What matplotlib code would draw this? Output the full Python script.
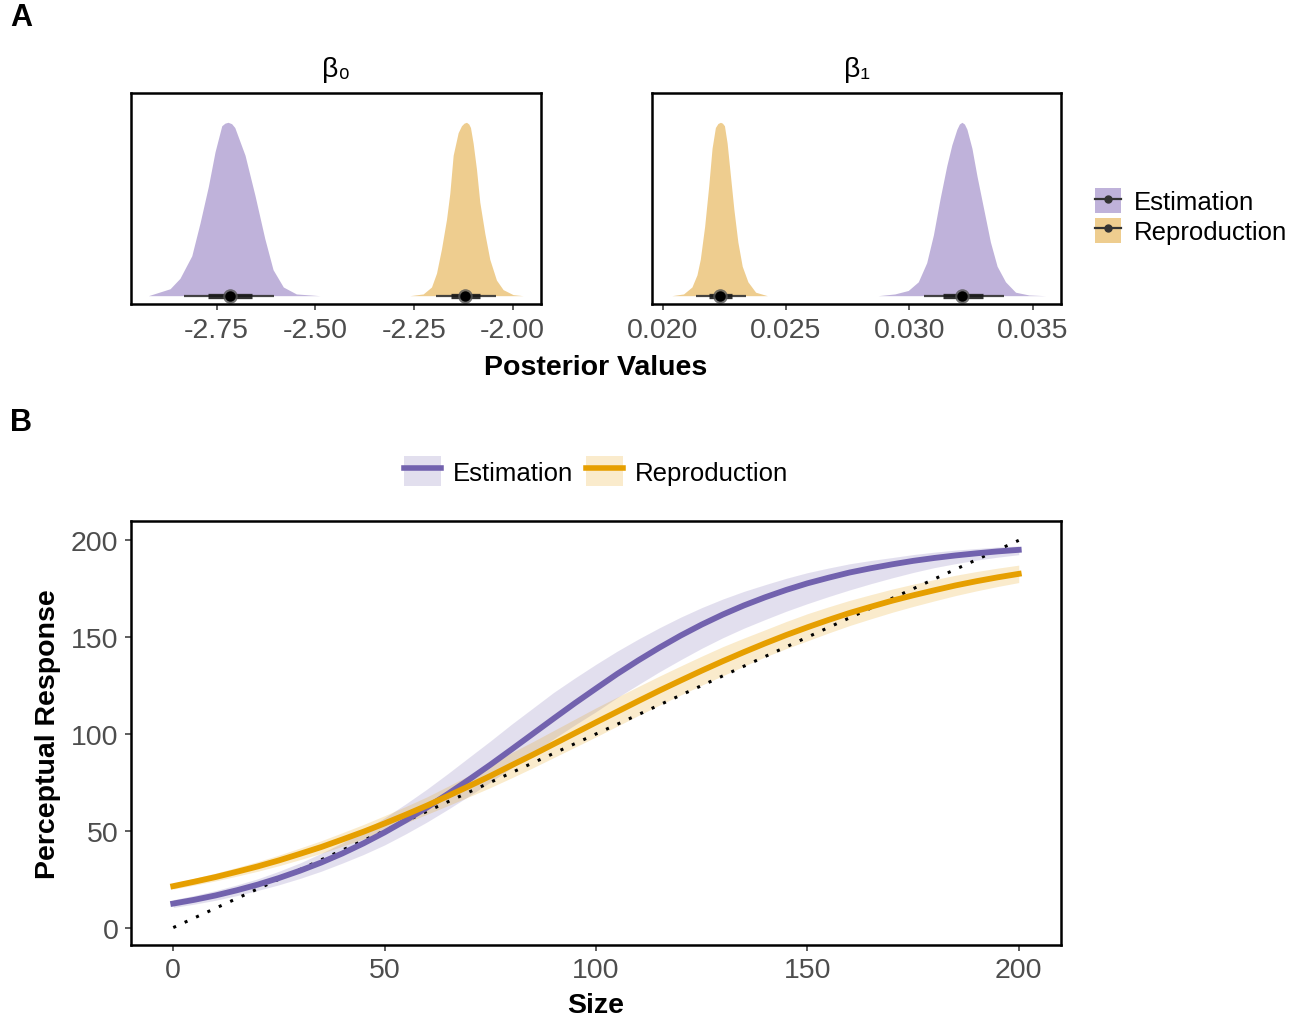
import numpy as np
import matplotlib
matplotlib.use("Agg")
import matplotlib.pyplot as plt
from matplotlib.patches import Patch
from matplotlib.lines import Line2D

plt.rcParams['font.family'] = ['Liberation Sans', 'DejaVu Sans']
plt.rcParams['axes.unicode_minus'] = False

# ---- panel A: posterior densities (relative heights) ----
b0_est_x = [-2.923, -2.868, -2.843, -2.813, -2.792, -2.771, -2.754, -2.737, -2.729, -2.721,
            -2.712, -2.704, -2.678, -2.653, -2.628, -2.607, -2.581, -2.548, -2.488]
b0_est_h = [0, 0.04, 0.10, 0.23, 0.42, 0.63, 0.83, 0.98, 0.995, 1.0,
            0.992, 0.97, 0.81, 0.58, 0.33, 0.15, 0.05, 0.01, 0]
b0_rep_x = [-2.2604, -2.2266, -2.2055, -2.1928, -2.1802, -2.1675, -2.1591, -2.1506, -2.1380,
            -2.1295, -2.123, -2.1168, -2.111, -2.1067, -2.1000, -2.0915, -2.0831, -2.0704,
            -2.0578, -2.0409, -2.0240, -1.9987, -1.9733]
b0_rep_h = [0, 0.01, 0.05, 0.13, 0.27, 0.44, 0.59, 0.81, 0.94,
            0.98, 0.995, 1.0, 0.99, 0.97, 0.88, 0.73, 0.54, 0.36,
            0.21, 0.09, 0.035, 0.006, 0]
b1_rep_x = [0.020366, 0.020842, 0.021182, 0.021387, 0.021522, 0.021699, 0.021862, 0.021999,
            0.022135, 0.022237, 0.022339, 0.022420, 0.022502, 0.022611, 0.022747, 0.022883,
            0.023046, 0.023223, 0.023454, 0.023767, 0.024244]
b1_rep_h = [0, 0.01, 0.05, 0.12, 0.21, 0.40, 0.63, 0.85,
            0.97, 0.993, 1.0, 0.995, 0.98, 0.88, 0.69, 0.5,
            0.31, 0.17, 0.08, 0.02, 0]
b1_est_x = [0.028733, 0.029413, 0.029958, 0.030366, 0.030706, 0.030978, 0.031250, 0.031522,
            0.031727, 0.031931, 0.032033, 0.032135, 0.032237, 0.032339, 0.032543, 0.032747,
            0.033019, 0.033291, 0.033563, 0.033903, 0.034311, 0.034856, 0.035536]
b1_est_h = [0, 0.01, 0.03, 0.08, 0.19, 0.35, 0.56, 0.75,
            0.87, 0.96, 0.99, 1.0, 0.99, 0.96, 0.85, 0.69,
            0.5, 0.31, 0.17, 0.08, 0.02, 0.004, 0]

# point estimate, 66% and 95% intervals
b0_est_int = [-2.716, -2.771, -2.661, -2.833, -2.604]
b0_rep_int = [-2.121, -2.155, -2.083, -2.1945, -2.041]
b1_rep_int = [0.022339, 0.021862, 0.022815, 0.021359, 0.023386]
b1_est_int = [0.032135, 0.031386, 0.032978, 0.030597, 0.033862]

# ---- panel B: fitted curves with ribbons ----
size = list(range(0, 201, 5))
est_mid = [12.4, 14.35, 16.6, 19.25, 22.2, 25.6, 29.4, 33.6, 38.3, 43.5,
           49.2, 55.4, 62.0, 69.1, 76.5, 84.1, 92.0, 100.0, 108.0, 115.9,
           123.5, 131.0, 138.0, 144.6, 150.8, 156.5, 161.7, 166.4, 170.6, 174.4,
           177.8, 180.7, 183.4, 185.6, 187.6, 189.4, 190.9, 192.2, 193.3, 194.3, 195.1]
est_up = [2, 2.25, 2.5, 2.75, 3, 3.5, 4, 4.75, 5.5, 6.5,
          7.5, 8.5, 9.5, 10.5, 11.5, 12.25, 13, 13.25, 13.5, 13,
          12.5, 11.75, 11, 10.25, 9.5, 8.75, 8, 7.25, 6.5, 6,
          5.5, 5, 4.5, 4, 3.5, 3.25, 3, 2.75, 2.5, 2.25, 2]
est_dn = [2, 2.25, 2.5, 2.75, 3, 3.5, 4, 4.5, 5, 5.75,
          6.5, 7, 7.5, 8, 8.5, 9, 9.5, 10, 10.5, 11.25,
          12, 12.25, 12.5, 12.5, 12.5, 12.25, 12, 11.75, 11.5, 11,
          10.5, 9.75, 9, 8, 7, 6, 5, 4.25, 3.5, 3, 2.5]
rep_mid = [21.4, 23.7, 26.1, 28.8, 31.6, 34.7, 38.1, 41.6, 45.5, 49.5,
           53.8, 58.3, 63.0, 68.0, 73.1, 78.3, 83.8, 89.2, 94.8, 100.4,
           106.0, 111.5, 117.0, 122.4, 127.6, 132.7, 137.6, 142.3, 146.8, 151.1,
           155.1, 158.9, 162.5, 165.7, 168.8, 171.6, 174.2, 176.7, 178.9, 180.9, 182.7]
rep_w = [1.5, 1.75, 2, 2.25, 2.5, 2.75, 3, 3.25, 3.5, 3.75,
         4, 4.25, 4.5, 5, 5.5, 6, 6.5, 6.75, 7, 7.25,
         7.5, 7.5, 7.5, 7.5, 7.5, 7.5, 7.5, 7.25, 7, 7,
         7, 6.75, 6.5, 6.25, 6, 5.75, 5.5, 5.25, 5, 4.75, 4.5]
identity = [0, 200]

est_fill = '#BFB2DA'
rep_fill = '#EECD8F'
est_line = '#7262AE'
rep_line = '#E69F00'
tick_col = '#4D4D4D'
FS = 20.5

fig = plt.figure(figsize=(13.01, 10.20), dpi=100)
W, H = 1301, 1020


def add_ax(x0, y0, x1, y1):
    return fig.add_axes([x0 / W, 1 - y1 / H, (x1 - x0) / W, (y1 - y0) / H])


def style(ax):
    for s in ax.spines.values():
        s.set_linewidth(1.8)
        s.set_color('black')
    ax.tick_params(labelsize=FS, colors='#333333', labelcolor=tick_col,
                   length=4, width=1.1, pad=5)


def draw_dens(ax, x, h, color, intv):
    ax.fill_between(x, 0, h, color=color, lw=0)
    pt, lo66, hi66, lo95, hi95 = intv
    ax.plot([lo95, hi95], [0, 0], color='#333333', lw=1.6, alpha=0.9, solid_capstyle='butt')
    ax.plot([lo66, hi66], [0, 0], color='#1a1a1a', lw=3.8, alpha=0.9, solid_capstyle='butt')
    ax.plot([pt], [0], 'o', ms=10.5, color='#555555', alpha=0.8, mec='none')
    ax.plot([pt], [0], 'o', ms=7.5, color='black', mec='none')


axA1 = add_ax(131, 94, 541, 305)
draw_dens(axA1, b0_est_x, b0_est_h, est_fill, b0_est_int)
draw_dens(axA1, b0_rep_x, b0_rep_h, rep_fill, b0_rep_int)
axA1.set_xlim(-2.967, -1.928)
axA1.set_xticks([-2.75, -2.5, -2.25, -2.0])
axA1.set_xticklabels(['-2.75', '-2.50', '-2.25', '-2.00'])

axA2 = add_ax(652, 94, 1061, 305)
draw_dens(axA2, b1_rep_x, b1_rep_h, rep_fill, b1_rep_int)
draw_dens(axA2, b1_est_x, b1_est_h, est_fill, b1_est_int)
axA2.set_xlim(0.019563, 0.036155)
axA2.set_xticks([0.020, 0.025, 0.030, 0.035])
axA2.set_xticklabels(['0.020', '0.025', '0.030', '0.035'])

for ax, title in [(axA1, 'β₀'), (axA2, 'β₁')]:
    ax.set_ylim(-0.048, 1.169)
    ax.set_yticks([])
    style(ax)
    ax.set_title(title, fontsize=FS, pad=12)

fig.text(596 / W, 1 - 368 / H, 'Posterior Values', fontsize=FS, fontweight='bold',
         ha='center', va='center')

legA = [(Patch(facecolor=est_fill, edgecolor='none'),
         Line2D([], [], color='#333333', lw=1.6, marker='o', ms=5)),
        (Patch(facecolor=rep_fill, edgecolor='none'),
         Line2D([], [], color='#333333', lw=1.6, marker='o', ms=5))]
fig.legend(legA, ['Estimation', 'Reproduction'], loc='center left',
           bbox_to_anchor=(1095 / W, 1 - 217 / H), frameon=False, fontsize=18.5,
           handlelength=1.0, handleheight=1.1, handletextpad=0.5, labelspacing=0.15,
           borderpad=0, borderaxespad=0)

# ---- panel B ----
est_lo = [m - d for m, d in zip(est_mid, est_dn)]
est_hi = [m + u for m, u in zip(est_mid, est_up)]
rep_lo = [m - w for m, w in zip(rep_mid, rep_w)]
rep_hi = [m + w for m, w in zip(rep_mid, rep_w)]

axB = add_ax(131, 522, 1061, 946)
axB.fill_between(size, est_lo, est_hi, color=est_line, alpha=0.2, lw=0)
axB.fill_between(size, rep_lo, rep_hi, color=rep_line, alpha=0.2, lw=0)
axB.plot(identity, identity, color='black', lw=2.2, linestyle=(0, (1, 3.1)))
axB.plot(size, est_mid, color=est_line, lw=4.2)
axB.plot(size, rep_mid, color=rep_line, lw=4.2)
axB.set_xlim(-10, 210)
axB.set_ylim(-9, 210)
axB.set_xticks([0, 50, 100, 150, 200])
axB.set_yticks([0, 50, 100, 150, 200])
style(axB)

fig.text(596 / W, 1 - 1006 / H, 'Size', fontsize=FS, fontweight='bold', ha='center', va='center')
fig.text(48 / W, 1 - 734 / H, 'Perceptual Response', fontsize=FS, fontweight='bold',
         ha='center', va='center', rotation=90)

legB = [(Patch(facecolor=est_line, alpha=0.2, edgecolor='none'),
         Line2D([], [], color=est_line, lw=4)),
        (Patch(facecolor=rep_line, alpha=0.2, edgecolor='none'),
         Line2D([], [], color=rep_line, lw=4))]
fig.legend(legB, ['Estimation', 'Reproduction'], loc='center', ncol=2,
           bbox_to_anchor=(596 / W, 1 - 472 / H), frameon=False, fontsize=18.5,
           handlelength=1.45, handleheight=1.45, handletextpad=0.45, columnspacing=0.5,
           borderpad=0, borderaxespad=0)

fig.text(10 / W, 1 - 18 / H, 'A', fontsize=22, fontweight='bold', ha='left', va='center')
fig.text(10 / W, 1 - 423 / H, 'B', fontsize=22, fontweight='bold', ha='left', va='center')

fig.savefig('out.png', dpi=100)
